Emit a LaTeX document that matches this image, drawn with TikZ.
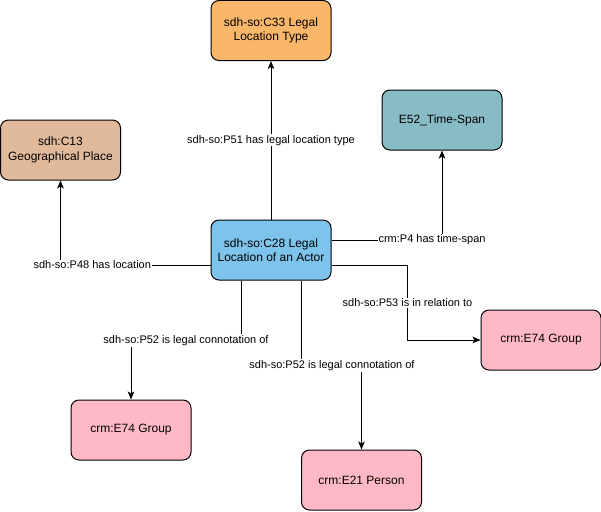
\documentclass[tikz,border=0pt]{standalone}
\usepackage{fontspec}
\setmainfont{Liberation Sans}
\usepackage{tikz}
\usetikzlibrary{arrows.meta}

\definecolor{legalorange}{HTML}{FAB769}
\definecolor{timeteal}{HTML}{87BCC7}
\definecolor{placetan}{HTML}{E1BA9C}
\definecolor{actorblue}{HTML}{7DC3EB}
\definecolor{groupPink}{HTML}{FFB9C6}

\begin{document}
\begin{tikzpicture}
        [x=1pt,y=-1pt,line width=1pt,>={Stealth[length=8pt,width=6.5pt,inset=2pt]},
         box/.style={draw,rounded corners=8pt,minimum width=120pt,minimum height=60pt,
                     align=center,font=\fontsize{12pt}{14.5pt}\selectfont,inner sep=2pt},
         lbl/.style={fill=white,inner sep=1pt,font=\fontsize{11pt}{13pt}\selectfont}]
        \useasboundingbox (0,0) rectangle (601,511);

        \node[box,fill=legalorange] (c33) at (271,30.5) {sdh-so:C33 Legal\\Location Type};
        \node[box,fill=timeteal] (e52) at (442,120) {E52\_Time-Span};
        \node[box,fill=placetan] (c13) at (60.5,150) {sdh:C13\\Geographical Place};
        \node[box,fill=actorblue] (c28) at (271,250) {sdh-so:C28 Legal\\Location of an Actor};
        \node[box,fill=groupPink] (e74b) at (541,340) {crm:E74 Group};
        \node[box,fill=groupPink] (e74a) at (131,430) {crm:E74 Group};
        \node[box,fill=groupPink] (e21) at (361.5,480) {crm:E21 Person};

        \draw [->] (c28) -- node[lbl] {sdh-so:P51 has legal location type} (c33);
        \draw [->] ([yshift=10pt]c28.east) -| node[lbl,pos=0.455] {crm:P4 has time-span} (e52);
        \draw [->] ([yshift=-15pt]c28.west) -| node[lbl,pos=0.394] {sdh-so:P48 has location} (c13);
        \draw [->] ([yshift=-15pt]c28.east) -- ++(76,0)
            |- node[lbl,pos=0.253] {sdh-so:P53 is in relation to} (e74b);
        \draw [->] ([xshift=-30pt]c28.south) -- ++(0,60)
            -| node[lbl,pos=0.25] {sdh-so:P52 is legal connotation of} (e74a);
        \draw [->] ([xshift=30pt]c28.south) -- ++(0,85)
            -| node[lbl,pos=0.256] {sdh-so:P52 is legal connotation of} (e21);

    \end{tikzpicture}
\end{document}
